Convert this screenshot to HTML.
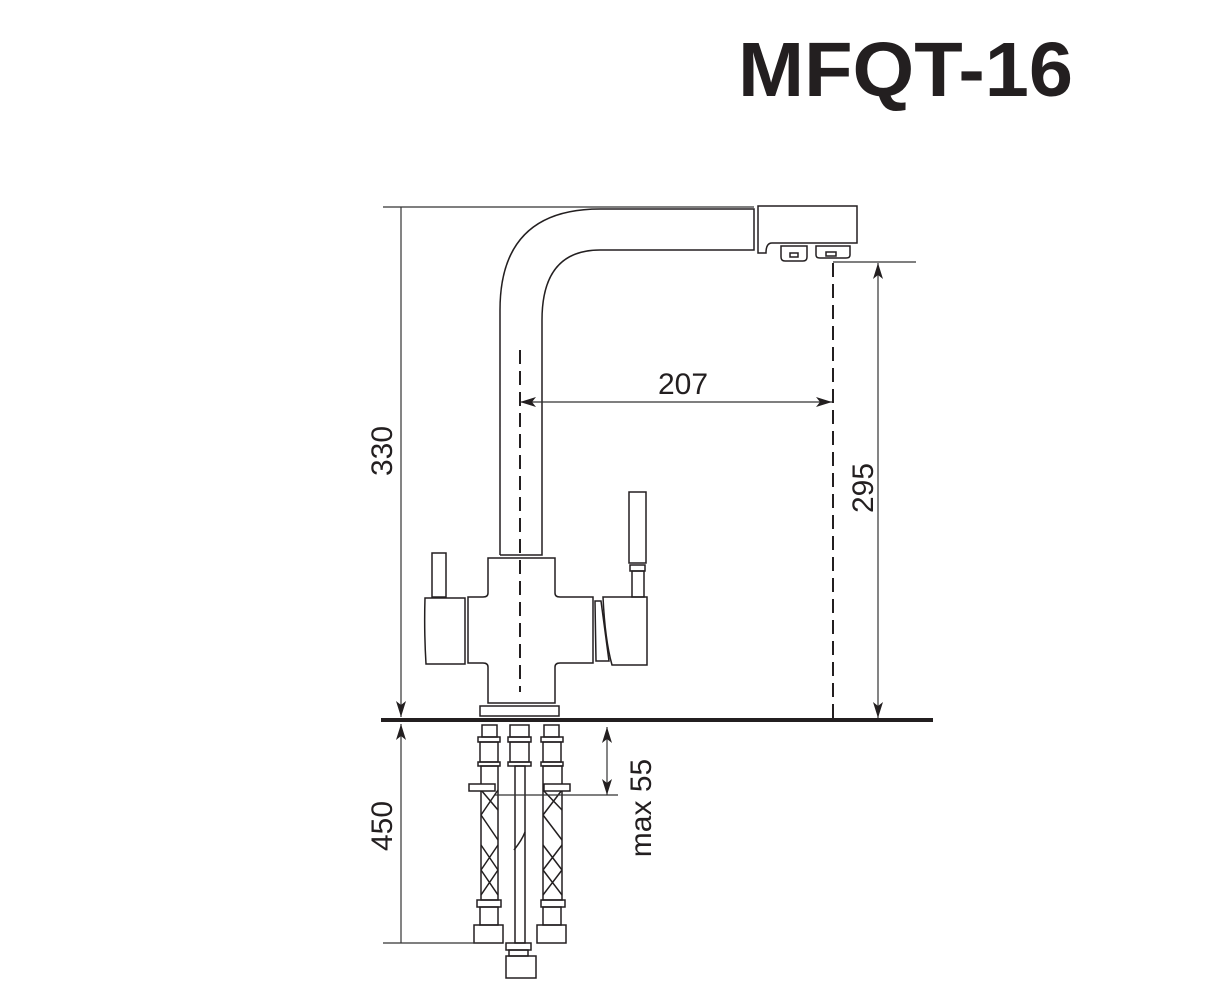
<!DOCTYPE html>
<html><head><meta charset="utf-8"><style>body{margin:0;background:#fff}svg{display:block}</style></head>
<body>
<svg width="1223" height="1000" viewBox="0 0 1223 1000" xmlns="http://www.w3.org/2000/svg" font-family="Liberation Sans, sans-serif">
<defs>
<marker id="a" viewBox="0 0 16 10" refX="16" refY="5" markerWidth="16" markerHeight="10" orient="auto-start-reverse" markerUnits="userSpaceOnUse"><path d="M0,0 L16,5 L0,10 L4,5 z" fill="#231f20"/></marker>
</defs>
<text x="738" y="96" font-size="77" font-weight="bold" fill="#231f20" textLength="335" lengthAdjust="spacingAndGlyphs">MFQT-16</text>
<g fill="none" stroke="#231f20" stroke-width="1.5">
<path d="M500,555 V310 Q500,209 600,209 H754 V250 H600 Q542,250 542,320 V555 H500"/>
<path d="M758,206 H857 V243 H772 Q766,243 766,253 H758 Z"/>
<path d="M781,246 H807 V257 Q807,261 803,261 H785 Q781,261 781,257 Z"/>
<rect x="790" y="253" width="8" height="4"/>
<path d="M816,246 H850 V255 Q850,258 846,258 H820 Q816,258 816,255 Z"/>
<rect x="826" y="252" width="10" height="4"/>
<path d="M488,558 H555 V593 Q555,597 560,597 H593 V663 H560 Q555,663 555,667 V703 H488 V667 Q488,663 483,663 H468 V597 H483 Q488,597 488,593 Z"/>
<rect x="480" y="706" width="79" height="10"/>
<path d="M425,598 H465 V664 H426 Q424,631 425,598 Z"/>
<rect x="432" y="553" width="14" height="44"/>
<path d="M595,601 H601 L609,661 H596 Z"/>
<path d="M603,597 H647 V665 H612 Q605,640 603,597 Z"/>
<rect x="629" y="492" width="17" height="71"/>
<rect x="630" y="565" width="15" height="6"/>
<rect x="632" y="571" width="12" height="26"/>
<rect x="482" y="725" width="15" height="12"/><rect x="478" y="737" width="22" height="5"/><rect x="480" y="742" width="18" height="20"/><rect x="478" y="762" width="22" height="4"/>
<rect x="481" y="766" width="17" height="134"/><rect x="477" y="900" width="24" height="7"/><rect x="480" y="907" width="18" height="18"/><rect x="474" y="925" width="29" height="18"/>
<path d="M481,790 L498,810 M498,790 L481,815 M481,815 L498,840 M481,845 L498,870 M498,845 L481,870 M481,870 L498,895 M498,870 L481,895"/>
<rect x="510" y="725" width="19" height="12"/><rect x="508" y="737" width="23" height="5"/><rect x="510" y="742" width="19" height="20"/><rect x="508" y="762" width="23" height="4"/>
<rect x="515" y="766" width="10" height="177"/><rect x="506" y="943" width="25" height="7"/><rect x="509" y="950" width="19" height="6"/><rect x="506" y="956" width="30" height="22"/>
<path d="M514,850 Q522,840 525,832"/>
<rect x="544" y="725" width="15" height="12"/><rect x="541" y="737" width="22" height="5"/><rect x="543" y="742" width="18" height="20"/><rect x="541" y="762" width="22" height="4"/>
<rect x="543" y="766" width="19" height="134"/><rect x="541" y="900" width="24" height="7"/><rect x="543" y="907" width="18" height="18"/><rect x="537" y="925" width="29" height="18"/>
<path d="M543,790 L562,810 M562,790 L543,815 M543,815 L562,840 M543,845 L562,870 M562,845 L543,870 M543,870 L562,895 M562,870 L543,895"/>
<rect x="469" y="784" width="26" height="7" fill="#fff"/>
<rect x="544" y="784" width="26" height="7" fill="#fff"/>
</g>
<g fill="none" stroke="#333" stroke-width="1.2">
<line x1="383" y1="207" x2="754" y2="207"/>
<line x1="401" y1="207" x2="401" y2="717" marker-end="url(#a)"/>
<line x1="520" y1="402" x2="832" y2="402" marker-start="url(#a)" marker-end="url(#a)"/>
<line x1="833" y1="262" x2="916" y2="262"/>
<line x1="878" y1="263" x2="878" y2="718" marker-start="url(#a)" marker-end="url(#a)"/>
<line x1="401" y1="724" x2="401" y2="943" marker-start="url(#a)"/>
<line x1="383" y1="943" x2="475" y2="943"/>
<line x1="495" y1="795" x2="618" y2="795"/>
<line x1="607" y1="727" x2="607" y2="795" marker-start="url(#a)" marker-end="url(#a)"/>
</g>
<g stroke="#231f20" stroke-width="2" stroke-dasharray="14,7">
<line x1="520" y1="350" x2="520" y2="692"/>
<line x1="833" y1="263" x2="833" y2="718"/>
</g>
<line x1="381" y1="720" x2="933" y2="720" stroke="#231f20" stroke-width="4"/>
<g fill="#231f20" font-size="30">
<text x="683" y="394" text-anchor="middle">207</text>
<text transform="translate(392,451) rotate(-90)" text-anchor="middle">330</text>
<text transform="translate(873,488) rotate(-90)" text-anchor="middle">295</text>
<text transform="translate(392,826) rotate(-90)" text-anchor="middle">450</text>
<text transform="translate(651,808) rotate(-90)" text-anchor="middle">max 55</text>
</g>
</svg>
</body></html>
